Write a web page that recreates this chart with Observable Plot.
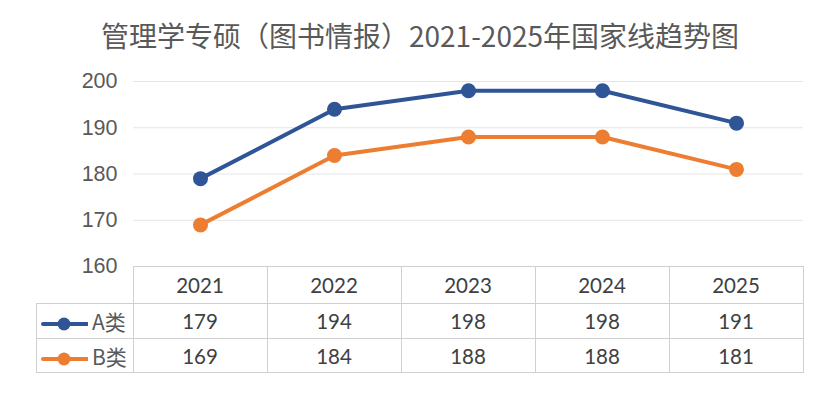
<!DOCTYPE html>
<html><head><meta charset="utf-8">
<script src="https://cdn.jsdelivr.net/npm/d3@7"></script>
<script src="https://cdn.jsdelivr.net/npm/@observablehq/plot@0.6"></script>
<style>
html,body{margin:0;padding:0;background:#fff;}
#wrap{position:relative;width:828px;height:398px;overflow:hidden;background:#fff;}
#title{position:absolute;left:6px;width:828px;top:14px;text-align:center;font-family:"Noto Sans CJK SC",sans-serif;font-size:28px;color:#595959;line-height:42px;}
#chart{position:absolute;left:0;top:60px;}
#chart svg text{font-size:21.5px;font-family:"Liberation Sans",Arial,sans-serif;}
#tbl{position:absolute;left:36px;top:266px;border-collapse:collapse;font-family:Lato,"Noto Sans",sans-serif;font-size:20.5px;color:#404040;}
#tbl td{border:1px solid #d0d0d0;text-align:center;padding:0;}
#tbl td.blank{border:none;border-right:1px solid #d0d0d0;border-bottom:1px solid #d0d0d0;}
#tbl td.leg{text-align:left;font-family:"Noto Sans CJK SC",sans-serif;font-size:21px;color:#595959;white-space:nowrap;}
#tbl td.leg svg{vertical-align:middle;margin-right:4px;}
</style></head>
<body><div id="wrap"><div id="title"></div><div id="chart"></div><table id="tbl"></table></div>
<script>
const titleText = "管理学专硕（图书情报）2021-2025年国家线趋势图";
const years = ["2021","2022","2023","2024","2025"];
const seriesNames = ["A类","B类"];
const seriesA = [179,194,198,198,191];
const seriesB = [169,184,188,188,181];
const yTicks = [160,170,180,190,200];
const colors = ["#2F5597","#ED7D31"];

document.getElementById("title").textContent = titleText;

const data = [];
[seriesA, seriesB].forEach((s, i) => s.forEach((v, j) => data.push({year: years[j], value: v, series: seriesNames[i]})));

const chart = Plot.plot({
  width: 828, height: 218,
  marginLeft: 133, marginRight: 25, marginTop: 21, marginBottom: 12,
  style: {background: "transparent", color: "#595959", overflow: "visible", fontFamily: "'Liberation Sans', Arial, sans-serif", fontSize: "21.5px"},
  x: {type: "point", domain: years, padding: 0.5, axis: null},
  y: {domain: [160, 200]},
  color: {domain: seriesNames, range: colors},
  marks: [
    Plot.ruleY(yTicks.filter(d => d > 160), {stroke: "#e4e4e4", strokeWidth: 1}),
    Plot.axisY(yTicks, {tickSize: 0, tickPadding: 16, fontSize: 21.5, label: null, fill: "#595959"}),
    Plot.line(data, {x: "year", y: "value", z: "series", stroke: "series", strokeWidth: 4, curve: "linear"}),
    Plot.dot(data, {x: "year", y: "value", fill: "series", r: 7.5, stroke: null})
  ]
});
document.getElementById("chart").appendChild(chart);

const tbl = d3.select("#tbl");
const head = tbl.append("tr").style("height", "37px");
head.append("td").attr("class", "blank").style("width", "96px");
years.forEach(y => head.append("td").style("width", "133px").text(y));
[seriesA, seriesB].forEach((s, i) => {
  const tr = tbl.append("tr").style("height", i === 0 ? "35px" : "34px");
  const td = tr.append("td").attr("class", "leg");
  const sv = td.append("svg").attr("width", 51).attr("height", 16);
  sv.append("line").attr("x1", 6).attr("x2", 50).attr("y1", 8).attr("y2", 8).attr("stroke", colors[i]).attr("stroke-width", 4).attr("stroke-linecap", "round");
  sv.append("circle").attr("cx", 27).attr("cy", 8).attr("r", 6.5).attr("fill", colors[i]);
  td.append("span").text(seriesNames[i]);
  s.forEach(v => tr.append("td").text(v));
});
</script></body></html>
